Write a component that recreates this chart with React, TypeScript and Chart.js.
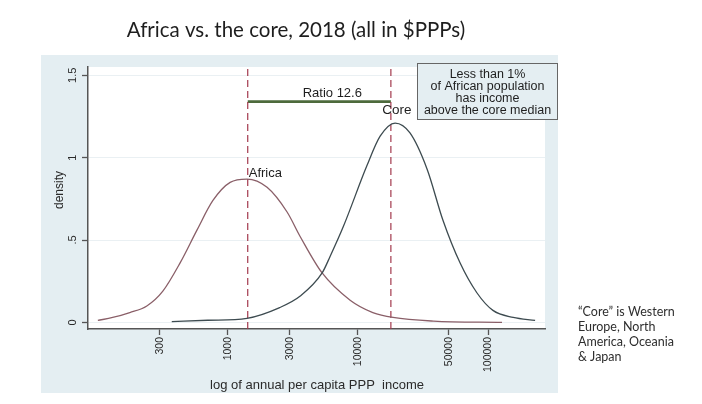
import React, { useEffect, useRef } from "react";
import { Chart, registerables } from "chart.js";

Chart.register(...registerables);

// ---- Data ----
const AFRICA_INCOME = [100, 130, 176, 238, 316, 428, 578, 767, 1040, 1400, 2000, 2850, 3600, 5300, 8700, 13000, 18600, 38000, 128000];
const AFRICA_DENSITY = [0.012, 0.03, 0.06, 0.10, 0.19, 0.36, 0.56, 0.74, 0.85, 0.87, 0.82, 0.67, 0.52, 0.30, 0.135, 0.06, 0.03, 0.008, 0.0];

const CORE_INCOME = [370, 700, 1400, 2500, 3600, 5300, 6100, 7700, 11700, 14800, 19300, 25100, 34000, 45000, 61000, 82000, 109000, 156000, 230000];
const CORE_DENSITY = [0.005, 0.013, 0.025, 0.09, 0.16, 0.30, 0.40, 0.58, 0.95, 1.13, 1.21, 1.15, 0.93, 0.62, 0.36, 0.18, 0.073, 0.03, 0.012];

const AFRICA_MEDIAN = 1420;
const CORE_MEDIAN = 17900;
const RATIO_LABEL = "Ratio 12.6";
const RATIO_BAR_Y = 1.34;

const X_TICKS = [300, 1000, 3000, 10000, 50000, 100000];
const Y_TICKS = [0, 0.5, 1, 1.5];
const Y_TICK_LABELS = ["0", ".5", "1", "1.5"];

const X_MIN = 84;
const X_MAX = 274000;
const Y_MIN = -0.04;
const Y_MAX = 1.55;

const TITLE = "Africa vs. the core, 2018 (all in $PPPs)";
const X_TITLE = "log of annual per capita PPP  income";
const Y_TITLE = "density";
const BOX_LINES = ["Less than 1%", "of African population", "has income", "above the core median"];
const NOTE_LINES = ["\u201CCore\u201D is Western", "Europe, North", "America, Oceania", "& Japan"];

const STATA_FONT = "'Liberation Sans', Arial, sans-serif";
const SLIDE_FONT = "Lato, 'Open Sans', sans-serif";

const decorPlugin = {
  id: "decor",
  beforeDraw(chart: any) {
    const ctx = chart.ctx;
    const a = chart.chartArea;
    ctx.save();
    ctx.fillStyle = "#ffffff";
    ctx.fillRect(0, 0, chart.width, chart.height);
    ctx.fillStyle = "#e4eef2";
    ctx.fillRect(41, 55, 517, 338);
    ctx.fillStyle = "#ffffff";
    ctx.fillRect(a.left, a.top, a.right - a.left, a.bottom - a.top);
    ctx.restore();
  },
  afterDraw(chart: any) {
    const ctx = chart.ctx;
    const xs = chart.scales.x;
    const ys = chart.scales.y;
    ctx.save();

    // y tick labels (rotated)
    ctx.fillStyle = "#2a2a2a";
    ctx.font = `11px ${STATA_FONT}`;
    ctx.textAlign = "center";
    ctx.textBaseline = "middle";
    Y_TICKS.forEach((v, i) => {
      const py = ys.getPixelForValue(v);
      ctx.save();
      ctx.translate(73, py);
      ctx.rotate(-Math.PI / 2);
      ctx.fillText(Y_TICK_LABELS[i], 0, 0);
      ctx.restore();
    });

    // y title
    ctx.font = `12px ${STATA_FONT}`;
    ctx.save();
    ctx.translate(60, 190);
    ctx.rotate(-Math.PI / 2);
    ctx.fillText(Y_TITLE, 0, 0);
    ctx.restore();

    // x title
    ctx.font = `13px ${STATA_FONT}`;
    ctx.fillText(X_TITLE, 317, 385);

    // main title
    ctx.fillStyle = "#1e1e1e";
    ctx.font = `20.5px ${SLIDE_FONT}`;
    ctx.fillText(TITLE, 296, 30);

    // right note
    ctx.fillStyle = "#2e2e2e";
    ctx.font = `12.5px ${SLIDE_FONT}`;
    ctx.textAlign = "left";
    NOTE_LINES.forEach((t, i) => ctx.fillText(t, 578, 312 + i * 15));

    // labels in plot
    ctx.fillStyle = "#1e1e1e";
    ctx.font = `13px ${STATA_FONT}`;
    const ax = xs.getPixelForValue(AFRICA_MEDIAN);
    const cx = xs.getPixelForValue(CORE_MEDIAN);
    const barY = ys.getPixelForValue(RATIO_BAR_Y);
    ctx.textAlign = "center";
    ctx.fillText(RATIO_LABEL, (ax + cx) / 2 + 13, barY - 8);
    ctx.textAlign = "left";
    ctx.fillText("Africa", ax + 1, ys.getPixelForValue(0.87) - 6);
    ctx.textAlign = "center";
    ctx.font = `13.5px ${STATA_FONT}`;
    ctx.fillText("Core", cx + 6, barY + 9);

    // annotation box
    ctx.fillStyle = "#e4eef2";
    ctx.fillRect(417, 63, 141, 57);
    ctx.strokeStyle = "#666";
    ctx.lineWidth = 1;
    ctx.strokeRect(417.5, 63.5, 140, 56);
    ctx.fillStyle = "#1e1e1e";
    ctx.font = `12.5px ${STATA_FONT}`;
    ctx.textAlign = "center";
    BOX_LINES.forEach((t, i) => ctx.fillText(t, 487.5, 75 + i * 11.7));

    ctx.restore();
  },
};

export default function App() {
  const ref = useRef<HTMLCanvasElement | null>(null);

  useEffect(() => {
    if (!ref.current) return;
    const pts = (xs: number[], ys: number[]) => xs.map((x, i) => ({ x, y: ys[i] }));
    const chart = new Chart(ref.current, {
      type: "line",
      data: {
        datasets: [
          {
            label: "Core",
            data: pts(CORE_INCOME, CORE_DENSITY),
            borderColor: "#3d4b50",
            borderWidth: 1.3,
            pointRadius: 0,
            cubicInterpolationMode: "monotone",
            fill: false,
          },
          {
            label: "Africa",
            data: pts(AFRICA_INCOME, AFRICA_DENSITY),
            borderColor: "#8a5f68",
            borderWidth: 1.3,
            pointRadius: 0,
            cubicInterpolationMode: "monotone",
            fill: false,
          },
          {
            label: "Africa median",
            data: [{ x: AFRICA_MEDIAN, y: Y_MIN }, { x: AFRICA_MEDIAN, y: Y_MAX }],
            borderColor: "#a33a4e",
            borderWidth: 1.2,
            borderDash: [7, 4],
            pointRadius: 0,
          },
          {
            label: "Core median",
            data: [{ x: CORE_MEDIAN, y: Y_MIN }, { x: CORE_MEDIAN, y: Y_MAX }],
            borderColor: "#a33a4e",
            borderWidth: 1.2,
            borderDash: [7, 4],
            pointRadius: 0,
          },
          {
            label: "Ratio",
            data: [{ x: AFRICA_MEDIAN, y: RATIO_BAR_Y }, { x: CORE_MEDIAN, y: RATIO_BAR_Y }],
            borderColor: "#4d6a3c",
            borderWidth: 2.6,
            pointRadius: 0,
          },
        ],
      },
      options: {
        responsive: false,
        animation: false,
        layout: { padding: { left: 41, top: 67, right: 157, bottom: 11 } },
        plugins: { legend: { display: false }, tooltip: { enabled: false }, title: { display: false } },
        scales: {
          x: {
            type: "logarithmic",
            min: X_MIN,
            max: X_MAX,
            afterBuildTicks: (s: any) => {
              s.ticks = X_TICKS.map((v) => ({ value: v }));
            },
            afterFit: (s: any) => {
              s.height = 64;
            },
            ticks: {
              autoSkip: false,
              minRotation: 90,
              maxRotation: 90,
              padding: 2,
              color: "#2a2a2a",
              font: { family: STATA_FONT, size: 10.5 },
              callback: (v: any) => String(v),
            },
            grid: { drawOnChartArea: false, tickLength: 6, color: "#555", tickColor: "#555", tickWidth: 1.3 },
            border: { color: "#555", width: 1.5 },
          },
          y: {
            type: "linear",
            min: Y_MIN,
            max: Y_MAX,
            afterBuildTicks: (s: any) => {
              s.ticks = Y_TICKS.map((v) => ({ value: v }));
            },
            afterFit: (s: any) => {
              s.width = 47;
            },
            ticks: { display: false },
            grid: { color: "#eaf0f3", tickLength: 6, tickColor: "#555", tickWidth: 1.3, lineWidth: 1 },
            border: { color: "#555", width: 1.5 },
          },
        },
      },
      plugins: [decorPlugin],
    } as any);
    return () => chart.destroy();
  }, []);

  return (
    <div style={{ position: "absolute", left: 0, top: 0, width: 702, height: 404, background: "#fff" }}>
      <canvas ref={ref} width={702} height={404} style={{ display: "block", width: 702, height: 404 }} />
    </div>
  );
}
